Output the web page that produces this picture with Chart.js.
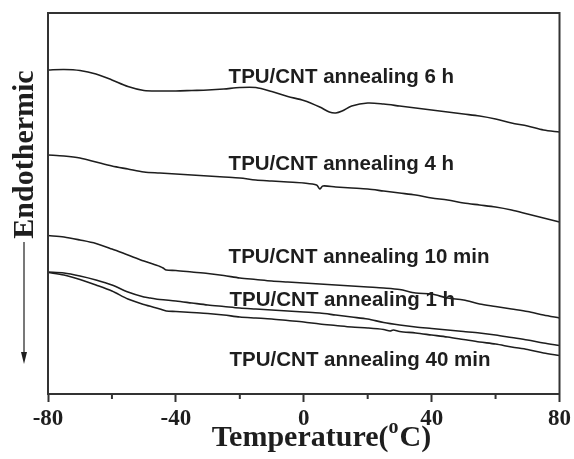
<!DOCTYPE html>
<html>
<head>
<meta charset="utf-8">
<script src="https://cdn.jsdelivr.net/npm/chart.js@4"></script>
<style>
    html, body { margin: 0; padding: 0; background: #fff; }
    #wrap { width: 574px; height: 459px; }
</style>
</head>
<body>
<div id="wrap"><canvas id="myChart" width="574" height="459"></canvas></div>
<script>
// temperatures (oC) and heat flow (arbitrary units, endo down) for every curve
const temps6h = [-80, -75, -70, -65, -60, -55, -50, -45, -40, -35, -30, -25, -20, -15, -10, -5, 0, 5, 8, 10, 12, 15, 20, 25, 30, 35, 40, 45, 50, 55, 60, 65, 70, 75, 80];
const flow6h = [324, 324.5, 323.5, 320, 314, 307.5, 303.5, 303, 303, 303.5, 304, 305, 306.5, 306.5, 302.5, 297.5, 293.5, 287, 282, 281, 283, 288, 291, 290, 288, 286, 284, 282, 280, 278, 275, 271, 268, 264, 262];

const temps4h = [-80, -75, -70, -65, -60, -55, -50, -45, -40, -35, -30, -25, -20, -15, -10, -5, 0, 4, 5, 6, 10, 15, 20, 25, 30, 35, 40, 45, 50, 55, 60, 65, 70, 75, 80];
const flow4h = [239, 238, 236, 232, 228, 225, 222, 221, 220, 219, 218, 217, 216, 214, 213, 212, 211, 209, 205, 208, 207, 206, 205, 203, 201, 199, 196, 194, 191, 189, 187, 184, 180, 176, 172];

const temps10min = [-80, -75, -70, -65, -60, -55, -50, -45, -44, -43, -40, -35, -30, -25, -20, -15, -10, -5, 0, 5, 10, 15, 20, 25, 30, 35, 40, 45, 50, 55, 60, 65, 70, 75, 80];
const flow10min = [158.5, 157, 154, 150.5, 145, 139, 133, 127.5, 126, 124, 123.5, 122, 120.5, 118.5, 116, 114.5, 113, 112, 111, 110, 109, 108, 107, 106, 104.5, 101, 100, 96, 94, 90, 87.5, 85, 82.5, 79, 76];

const temps1h = [-80, -75, -70, -65, -60, -55, -50, -48, -45, -40, -35, -30, -25, -20, -15, -10, -5, 0, 5, 10, 15, 20, 25, 30, 35, 40, 45, 50, 55, 60, 65, 70, 75, 80];
const flow1h = [122, 121, 118, 114, 109, 102, 97, 96, 94.5, 93, 91, 89, 87.5, 86, 85, 84, 83, 82, 81, 79, 77, 75, 71.5, 69, 67, 65.5, 64, 62.5, 61, 59, 56.5, 54, 51, 48.5];

const temps40min = [-80, -75, -70, -65, -60, -55, -50, -45, -43, -40, -35, -30, -25, -20, -15, -10, -5, 0, 5, 10, 15, 20, 25, 27, 28, 30, 35, 40, 45, 50, 55, 60, 65, 70, 75, 80];
const flow40min = [121.5, 119, 114.5, 109, 103, 95, 89.5, 85, 83, 82.5, 81.5, 80.5, 79, 77, 76, 75, 73.5, 72, 70, 68.5, 67, 66, 64.5, 63, 64, 62.5, 61, 59, 57, 54.5, 52, 50, 47, 44.5, 41, 38.5];

// curve labels and where they sit (temperature, flow at baseline)
const curveLabels = ['TPU/CNT annealing 6 h', 'TPU/CNT annealing 4 h', 'TPU/CNT annealing 10 min', 'TPU/CNT annealing 1 h', 'TPU/CNT annealing 40 min'];
const labelTemps = [-23.5, -23.5, -23.5, -23.2, -23.2];
const labelFlows = [311, 224, 131, 88, 28];

const majorTicks = [-80, -40, 0, 40, 80];
const minorTicks = [-60, -20, 20, 60];

var ink = '#1e1e1e';

function toPoints(xs, ys) {
    var pts = [];
    for (var i = 0; i < xs.length; i++) {
        pts.push({ x: xs[i], y: ys[i] });
    }
    return pts;
}

function curve(name, xs, ys) {
    return {
        label: name,
        data: toPoints(xs, ys),
        borderColor: ink,
        borderWidth: 1.6,
        pointRadius: 0,
        tension: 0.3,
        fill: false
    };
}

// frame, minor ticks, curve labels, axis titles and arrow
const decorations = {
    id: 'decorations',
    afterDraw: function (chart) {
        const ctx = chart.ctx;
        const area = chart.chartArea;
        const xs = chart.scales.x;
        const ys = chart.scales.y;
        ctx.save();

        ctx.strokeStyle = '#333';
        ctx.lineWidth = 2;
        ctx.strokeRect(area.left, area.top, area.right - area.left, area.bottom - area.top);

        ctx.beginPath();
        minorTicks.forEach(function (t) {
            var px = xs.getPixelForValue(t);
            ctx.moveTo(px, area.bottom);
            ctx.lineTo(px, area.bottom + 5);
        });
        ctx.stroke();

        ctx.fillStyle = ink;
        ctx.font = 'bold 20.5px "Liberation Sans", Arial, sans-serif';
        ctx.textAlign = 'left';
        ctx.textBaseline = 'alphabetic';
        for (var i = 0; i < curveLabels.length; i++) {
            ctx.fillText(curveLabels[i], xs.getPixelForValue(labelTemps[i]), ys.getPixelForValue(labelFlows[i]));
        }

        // x title with superscript o
        var big = 'bold 30px "Liberation Serif", "Times New Roman", serif';
        var small = 'bold 20px "Liberation Serif", "Times New Roman", serif';
        ctx.font = big;
        var w1 = ctx.measureText('Temperature(').width;
        var w3 = ctx.measureText('C)').width;
        ctx.font = small;
        var w2 = ctx.measureText('o').width + 1;
        var x0 = 321.5 - (w1 + w2 + w3) / 2;
        var base = 446;
        ctx.font = big;
        ctx.fillText('Temperature(', x0, base);
        ctx.font = small;
        ctx.fillText('o', x0 + w1, base - 13);
        ctx.font = big;
        ctx.fillText('C)', x0 + w1 + w2, base);

        // y title
        ctx.save();
        ctx.translate(24, 154.5);
        ctx.rotate(-Math.PI / 2);
        ctx.textAlign = 'center';
        ctx.textBaseline = 'middle';
        ctx.font = big;
        ctx.fillText('Endothermic', 0, 1);
        ctx.restore();

        // arrow pointing down
        ctx.strokeStyle = ink;
        ctx.lineWidth = 1.2;
        ctx.beginPath();
        ctx.moveTo(24, 242);
        ctx.lineTo(24, 355);
        ctx.stroke();
        ctx.beginPath();
        ctx.moveTo(21, 352);
        ctx.lineTo(27, 352);
        ctx.lineTo(24, 364);
        ctx.closePath();
        ctx.fill();

        ctx.restore();
    }
};

const ctx = document.getElementById('myChart').getContext('2d');
const myChart = new Chart(ctx, {
    type: 'line',
    data: {
        datasets: [
            curve('6 h', temps6h, flow6h),
            curve('4 h', temps4h, flow4h),
            curve('10 min', temps10min, flow10min),
            curve('1 h', temps1h, flow1h),
            curve('40 min', temps40min, flow40min)
        ]
    },
    options: {
        responsive: false,
        animation: false,
        devicePixelRatio: 1,
        layout: { padding: { top: 13, left: 48, right: 13, bottom: 0 } },
        plugins: {
            legend: { display: false },
            tooltip: { enabled: false }
        },
        scales: {
            x: {
                type: 'linear',
                min: -80,
                max: 80,
                afterFit: function (scale) { scale.height = 65; },
                afterBuildTicks: function (scale) {
                    scale.ticks = majorTicks.map(function (v) { return { value: v }; });
                },
                ticks: {
                    color: ink,
                    padding: 3,
                    maxRotation: 0,
                    font: { family: '"Liberation Serif", "Times New Roman", serif', size: 23, weight: 'bold' }
                },
                grid: {
                    drawOnChartArea: false,
                    drawTicks: true,
                    tickLength: 8,
                    tickWidth: 2,
                    tickColor: '#333'
                },
                border: { color: '#333', width: 2 }
            },
            y: {
                display: false,
                min: 0,
                max: 381
            }
        }
    },
    plugins: [decorations]
});
</script>
</body>
</html>
